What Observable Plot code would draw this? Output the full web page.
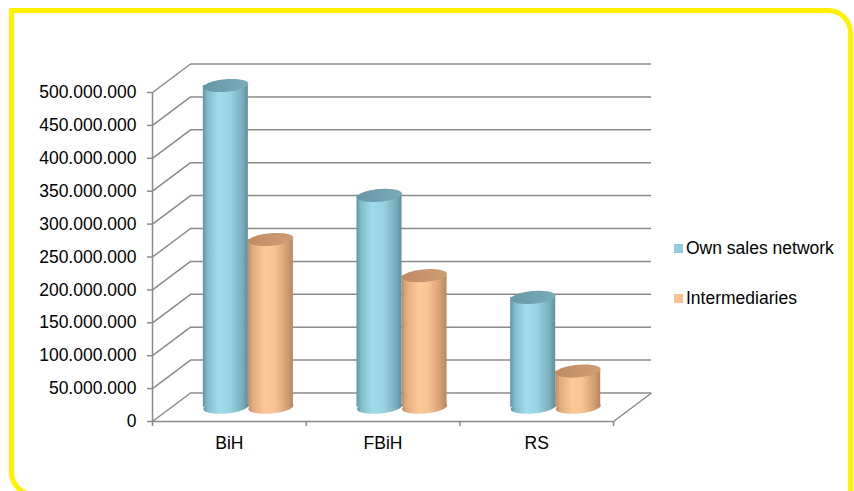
<!DOCTYPE html>
<html>
<head>
<meta charset="utf-8">
<script src="https://cdn.jsdelivr.net/npm/d3@7"></script>
<script src="https://cdn.jsdelivr.net/npm/@observablehq/plot@0.6"></script>
<style>
  html, body { margin: 0; padding: 0; background: #fff; }
  #wrap { position: relative; width: 854px; height: 491px; overflow: hidden; font-family: "Liberation Sans", Arial, sans-serif; }
  #frame {
    position: absolute; left: 9px; top: 8px; width: 844px; height: 489px;
    box-sizing: border-box; border: 5px solid #fff200;
    border-radius: 0 25px 0 25px; pointer-events: none;
  }
  #chart { position: absolute; left: 0; top: 0; }
  .legend-row { position: absolute; left: 674px; height: 18px; display: flex; align-items: center; font-size: 17.5px; color: #000; white-space: nowrap; }
  .legend-row .sw { width: 9px; height: 9px; margin-right: 3px; }
</style>
</head>
<body>
<div id="wrap">
  <div id="chart"></div>
  <div id="legend"></div>
  <div id="frame"></div>
</div>
<script>
// Categories and the two series (values in KM)
const categories = ["BiH", "FBiH", "RS"];
const seriesNames = ["Own sales network", "Intermediaries"];
const ownSales = [489000000, 322000000, 167000000];
const intermediaries = [255000000, 200000000, 55000000];
const yTicks = [0, 50000000, 100000000, 150000000, 200000000, 250000000,
                300000000, 350000000, 400000000, 450000000, 500000000];

// Legend / gradient colours per series
const seriesColors = {
  "Own sales network": {
    swatch: "#93cddd",
    body: [[0, "#5d95a4"], [0.1, "#80bccc"], [0.35, "#a2dcec"], [0.6, "#98d2e2"], [0.88, "#77adbc"], [1, "#5f8f9d"]],
    top: [[0, "#6797a6"], [1, "#7aabb9"]]
  },
  "Intermediaries": {
    swatch: "#fac090",
    body: [[0, "#bf8a62"], [0.1, "#dfaa7e"], [0.38, "#fdc999"], [0.6, "#f8c392"], [0.88, "#d19c70"], [1, "#b98560"]],
    top: [[0, "#c08b63"], [1, "#cf9d74"]]
  }
};

// Oblique depth of the 3-D box, in data units (category units / value units)
const DEPTH_X = 0.2476;
const DEPTH_Y = 43300000;
const BAR_W = 0.293;   // cylinder diameter in category units
const CYL_R = 22.5;    // cylinder radius in pixels (used for the elliptic caps)

const fmt = d3.formatLocale({decimal: ",", thousands: ".", grouping: [3]}).format(",");

const rows = categories.flatMap((c, i) => [
  {cat: c, i, series: seriesNames[0], value: ownSales[i], slot: 0},
  {cat: c, i, series: seriesNames[1], value: intermediaries[i], slot: 1}
]);
const x1Of = d => d.i + 0.5 + (d.slot === 0 ? -BAR_W : 0) + DEPTH_X / 2;
const x2Of = d => x1Of(d) + BAR_W;
const xcOf = d => x1Of(d) + BAR_W / 2;

// Slightly tilted ellipse drawn as a d3 symbol
const ellipseSymbol = {
  draw(ctx, size) {
    const R = Math.sqrt(size / Math.PI);
    const rx = R, ry = R * 0.28, a = -5 * Math.PI / 180;
    const n = 64;
    for (let k = 0; k <= n; k++) {
      const t = (k / n) * 2 * Math.PI;
      const ex = rx * Math.cos(t), ey = ry * Math.sin(t);
      const px = ex * Math.cos(a) - ey * Math.sin(a);
      const py = ex * Math.sin(a) + ey * Math.cos(a);
      if (k === 0) ctx.moveTo(px, py); else ctx.lineTo(px, py);
    }
    ctx.closePath();
  }
};

const gid = (s, part) => `g-${seriesNames.indexOf(s)}-${part}`;

function gradients() {
  const defs = d3.create("svg:defs");
  for (const s of seriesNames) {
    for (const part of ["body", "top"]) {
      const g = defs.append("linearGradient").attr("id", gid(s, part))
        .attr("x1", 0).attr("x2", 1).attr("y1", 0).attr("y2", 0);
      for (const [o, c] of seriesColors[s][part]) g.append("stop").attr("offset", o).attr("stop-color", c);
    }
  }
  return defs.node();
}

function cylinders(slot) {
  const data = rows.filter(d => d.slot === slot);
  const s = seriesNames[slot];
  return [
    Plot.dot(data, {x: xcOf, y: () => DEPTH_Y / 2, r: CYL_R, symbol: ellipseSymbol, fill: `url(#${gid(s, "body")})`, stroke: "none"}),
    Plot.rectY(data, {x1: x1Of, x2: x2Of, y1: () => DEPTH_Y / 2, y2: d => d.value + DEPTH_Y / 2, fill: `url(#${gid(s, "body")})`, insetLeft: 0, insetRight: 0}),
    Plot.dot(data, {x: xcOf, y: d => d.value + DEPTH_Y / 2, r: CYL_R, symbol: ellipseSymbol, fill: `url(#${gid(s, "top")})`, stroke: "none"})
  ];
}

const grid = {stroke: "#8a8a8a", strokeWidth: 1.5};

const chart = Plot.plot({
  width: 854,
  height: 491,
  marginLeft: 152,
  marginRight: 241,
  marginTop: 92,
  marginBottom: 70,
  x: {domain: [0, 3], label: null},
  y: {domain: [0, 500000000], label: null},
  style: {fontFamily: "'Liberation Sans', Arial, sans-serif", fontSize: "17.5px", color: "#000", background: "transparent"},
  marks: [
    gradients,
    // back wall
    Plot.ruleY(yTicks, {y: d => d + DEPTH_Y, x1: DEPTH_X, x2: 3 + DEPTH_X, ...grid}),
    // side wall
    Plot.link(yTicks, {x1: 0, y1: d => d, x2: DEPTH_X, y2: d => d + DEPTH_Y, ...grid}),
    // floor edges
    Plot.link([0], {x1: 3, y1: 0, x2: 3 + DEPTH_X, y2: DEPTH_Y, ...grid}),
    Plot.ruleY([0], {x1: 0, x2: 3, ...grid}),
    Plot.ruleX([0], {y1: 0, y2: 500000000, ...grid}),
    // axes
    Plot.axisY({ticks: yTicks, tickSize: 5, tickPadding: 11, tickFormat: fmt, fontSize: 17.5, stroke: "#8a8a8a", strokeWidth: 1.5}),
    Plot.axisX({ticks: [0, 1, 2, 3], tickSize: 5, tickFormat: () => "", stroke: "#8a8a8a", strokeWidth: 1.5}),
    Plot.axisX({ticks: categories.map((c, i) => i + 0.5), tickSize: 0, tickPadding: 15, fontSize: 17.5,
                tickFormat: d => categories[Math.floor(d)]}),
    // cylinders: intermediaries behind, own sales network in front
    ...cylinders(1),
    ...cylinders(0)
  ]
});
document.getElementById("chart").appendChild(chart);

// legend to the right of the chart
const legend = d3.select("#legend");
seriesNames.forEach((s, k) => {
  const row = legend.append("div").attr("class", "legend-row").style("top", `${239 + k * 50}px`);
  row.append("div").attr("class", "sw").style("background", seriesColors[s].swatch);
  row.append("span").text(s);
});
</script>
</body>
</html>
